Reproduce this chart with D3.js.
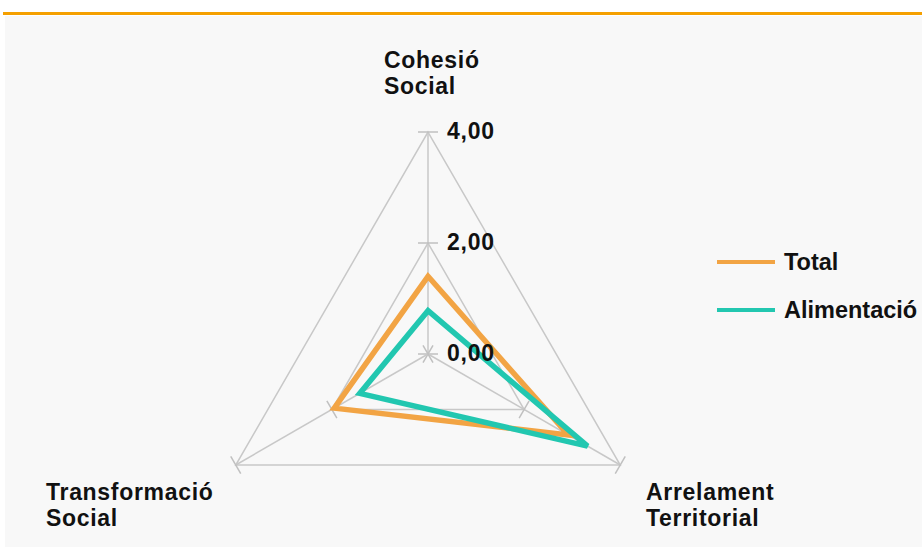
<!DOCTYPE html>
<html><head><meta charset="utf-8">
<script src="https://cdn.jsdelivr.net/npm/d3@7"></script>
<style>
html,body{margin:0;padding:0;background:#fff;}
svg{display:block;}
text{font-family:"Liberation Sans",Arial,sans-serif;font-weight:700;fill:#111;}
</style></head>
<body><svg id="c" width="922" height="547"></svg>
<script>
const axes = [["Cohesió","Social"],["Arrelament","Territorial"],["Transformació","Social"]];
const seriesNames = ["Total","Alimentació"];
const totalValues = [1.40, 2.92, 1.95];
const alimentacioValues = [0.78, 3.32, 1.42];
const tickValues = [0, 2, 4];
const tickLabels = ["0,00","2,00","4,00"];
const colors = ["#F2A444","#22C7B0"];

const svg = d3.select("#c");
svg.append("rect").attr("x",5).attr("y",16).attr("width",917).attr("height",531).attr("fill","#f8f8f8");
svg.append("rect").attr("x",3).attr("y",12).attr("width",919).attr("height",3).attr("fill","#F5A000");

const cx = 428, cy = 354;
const r = d3.scaleLinear().domain([0,4]).range([0,222]);
const angles = [-90, 30, 150].map(a => a*Math.PI/180);
const pt = (i,v) => [cx + r(v)*Math.cos(angles[i]), cy + r(v)*Math.sin(angles[i])];

const g = svg.append("g");
[2,4].forEach(lv => {
  g.append("path").attr("d", d3.line()(axes.map((_,i)=>pt(i,lv))) + "Z")
    .attr("fill","none").attr("stroke","#c8c8c8").attr("stroke-width",1.5);
});
axes.forEach((_,i) => {
  const [x,y] = pt(i,4);
  g.append("line").attr("x1",cx).attr("y1",cy).attr("x2",x).attr("y2",y)
    .attr("stroke","#c8c8c8").attr("stroke-width",1.5);
  tickValues.forEach(tv => {
    const [tx,ty] = pt(i,tv);
    const px = -Math.sin(angles[i])*10, py = Math.cos(angles[i])*10;
    g.append("line").attr("x1",tx-px).attr("y1",ty-py).attr("x2",tx+px).attr("y2",ty+py)
      .attr("stroke","#c0c0c0").attr("stroke-width",1.5);
  });
});
[totalValues, alimentacioValues].forEach((vals,s) => {
  g.append("path").attr("d", d3.line()(vals.map((v,i)=>pt(i,v))) + "Z")
    .attr("fill","none").attr("stroke",colors[s]).attr("stroke-width",5.5).attr("stroke-linejoin","miter");
});
tickValues.forEach((tv,k) => {
  const [x,y] = pt(0,tv);
  g.append("text").attr("x",x+19).attr("y",y+7).attr("font-size",23)
    .attr("letter-spacing",0.8).text(tickLabels[k]);
});
const labelPos = [[384,68],[646,500],[46,500]];
axes.forEach((lines,i) => {
  lines.forEach((l,j) => g.append("text").attr("x",labelPos[i][0]).attr("y",labelPos[i][1] + j*26)
    .attr("font-size",23).attr("letter-spacing",0.7).text(l));
});
seriesNames.forEach((n,s) => {
  const y = 262 + s*48;
  svg.append("line").attr("x1",717).attr("x2",775).attr("y1",y).attr("y2",y)
    .attr("stroke",colors[s]).attr("stroke-width",4);
  svg.append("text").attr("x",784).attr("y",y+8).attr("font-size",23.5).text(n);
});
</script></body></html>
